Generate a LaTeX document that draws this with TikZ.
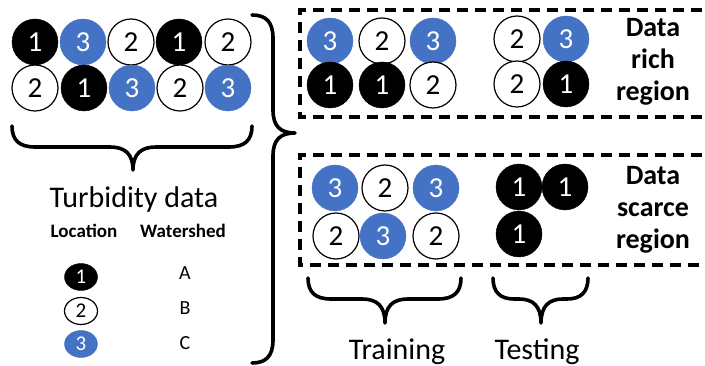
\documentclass[tikz,border=0pt]{standalone}
\usepackage{fontspec}
\setmainfont{Carlito}
\usetikzlibrary{shapes.geometric}
\definecolor{obl}{HTML}{4472C4}
\tikzset{
  cir/.style={circle,minimum size=46pt,inner sep=0pt,font=\fontsize{29}{29}\selectfont},
  cone/.style={cir,fill=black,draw=black,text=white},
  ctwo/.style={cir,fill=white,draw=black,line width=1.2pt,text=black},
  cthree/.style={cir,fill=obl,draw=obl,text=white},
  lg/.style={ellipse,minimum width=33pt,minimum height=27pt,inner sep=0pt,font=\fontsize{21}{21}\selectfont},
  lone/.style={lg,fill=black,draw=black,text=white},
  ltwo/.style={lg,fill=white,draw=black,line width=1.2pt,text=black},
  lthree/.style={lg,fill=obl,draw=obl,text=white},
  brace/.style={line width=3.6pt,line cap=round,line join=round},
  dbox/.style={line width=3.2pt,dash pattern=on 11pt off 7pt},
  big/.style={font=\fontsize{30}{34}\selectfont,anchor=base},
  reg/.style={font=\bfseries\fontsize{28}{32}\selectfont,align=center},
  hdr/.style={font=\bfseries\fontsize{19}{20}\selectfont,anchor=base},
  lab/.style={font=\fontsize{20}{20}\selectfont,anchor=base}
}
\begin{document}
\begin{tikzpicture}[x=1pt,y=-1pt]
\useasboundingbox (0,0) rectangle (705,366);
\clip (0,0) rectangle (705,366);
\fill[white] (0,0) rectangle (705,366);
% left data circles
\node[cone]   (a1) at (35,42) {1};
\node[cthree] (a2) at (83,42) {3};
\node[ctwo]   (a3) at (131,42) {2};
\node[cone]   (a4) at (179,42) {1};
\node[ctwo]   (a5) at (228,42) {2};
\node[ctwo]   (b1) at (35,88) {2};
\node[cone]   (b2) at (84,88) {1};
\node[cthree] (b3) at (132,88) {3};
\node[ctwo]   (b4) at (180,88) {2};
\node[cthree] (b5) at (228,88) {3};
% brace under left circles
\draw[brace] (12,126) .. controls (12,140) and (19,147) .. (35,147) -- (110,147)
  .. controls (125,147) and (133,154) .. (133,170)
  .. controls (133,154) and (141,147) .. (156,147)
  -- (229,147) .. controls (245,147) and (252,140) .. (252,126);
\node[big] (turb) at (134,208) {Turbidity data};
\node[hdr] (loc) at (84,238) {Location};
\node[hdr] (ws) at (183,238) {Watershed};
\node[lone]   (l1) at (81,277) {1};
\node[ltwo]   (l2) at (81,311) {2};
\node[lthree] (l3) at (81,344) {3};
\node[lab] (wa) at (185,280) {A};
\node[lab] (wb) at (185,315) {B};
\node[lab] (wc) at (185,350) {C};
% big right brace
\draw[brace] (252,15) .. controls (266,15) and (273,22) .. (273,38) -- (273,110)
  .. controls (273,126) and (280,133) .. (295,133)
  .. controls (280,133) and (273,140) .. (273,156)
  -- (273,340) .. controls (273,356) and (266,363) .. (252,363);
% dashed boxes
\draw[dbox] (720,10) -- (300,10) -- (300,117) -- (720,117);
\draw[dbox] (720,155) -- (300,155) -- (300,265) -- (720,265);
% top box circles
\node[cthree] (r1) at (330,41) {3};
\node[ctwo]   (r2) at (382,41) {2};
\node[cthree] (r3) at (433,41) {3};
\node[cone]   (r4) at (330,85) {1};
\node[cone]   (r5) at (382,85) {1};
\node[ctwo]   (r6) at (433,85) {2};
\node[ctwo]   (rt1) at (517,39) {2};
\node[cthree] (rt2) at (566,39) {3};
\node[ctwo]   (rt3) at (517,84) {2};
\node[cone]   (rt4) at (566,84) {1};
\node[reg] (rich) at (653,62) {Data\\rich\\region};
% bottom box circles
\node[cthree] (s1) at (335,188) {3};
\node[ctwo]   (s2) at (385,188) {2};
\node[cthree] (s3) at (436,188) {3};
\node[ctwo]   (s4) at (336,236) {2};
\node[cthree] (s5) at (383,236) {3};
\node[ctwo]   (s6) at (436,236) {2};
\node[cone]   (st1) at (519,187) {1};
\node[cone]   (st2) at (565,187) {1};
\node[cone]   (st3) at (519,234) {1};
\node[reg] (scarce) at (653,210) {Data\\scarce\\region};
% bottom braces
\draw[brace] (308,278) .. controls (308,292) and (315,299) .. (331,299) -- (362,299)
  .. controls (377,299) and (385,306) .. (385,323)
  .. controls (385,306) and (393,299) .. (408,299)
  -- (438,299) .. controls (454,299) and (461,292) .. (461,278);
\draw[brace] (493,278) .. controls (493,292) and (500,299) .. (514,299) -- (519,299)
  .. controls (533,299) and (541,306) .. (541,323)
  .. controls (541,306) and (549,299) .. (563,299)
  -- (567,299) .. controls (581,299) and (588,292) .. (588,278);
\node[big] (train) at (397,360) {Training};
\node[big] (test) at (537,360) {Testing};
\end{tikzpicture}
\end{document}
